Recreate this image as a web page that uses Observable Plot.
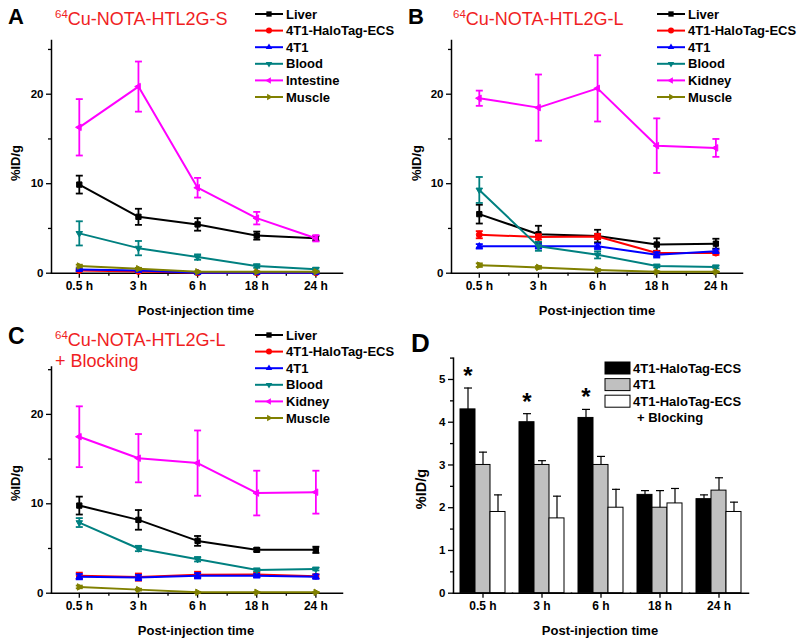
<!DOCTYPE html>
<html><head><meta charset="utf-8">
<script src="https://cdn.jsdelivr.net/npm/d3@7"></script>
<script src="https://cdn.jsdelivr.net/npm/@observablehq/plot@0.6"></script>
<style>
body{margin:0;background:#fff;}
#fig{position:relative;width:800px;height:639px;overflow:hidden;background:#fff;font-family:"Liberation Sans",Arial,sans-serif;}
#fig > svg{position:absolute;}
</style></head><body><div id="fig"></div>
<script>
// ---------- data ----------
const times = ["0.5 h", "3 h", "6 h", "18 h", "24 h"];
const namesA = ["Liver", "4T1-HaloTag-ECS", "4T1", "Blood", "Intestine", "Muscle"];
const namesBC = ["Liver", "4T1-HaloTag-ECS", "4T1", "Blood", "Kidney", "Muscle"];

// Panel A: 64Cu-NOTA-HTL2G-S
const aLiver = [9.9, 6.3, 5.45, 4.2, 3.9];       const aLiverErr = [1.0, 0.9, 0.7, 0.45, 0.25];
const aHalo = [0.3, 0.2, 0.05, 0.05, 0.05];      const aHaloErr = [0.1, 0.1, 0.02, 0.02, 0.02];
const a4T1 = [0.4, 0.3, 0.05, 0.05, 0.05];       const a4T1Err = [0.1, 0.1, 0.02, 0.02, 0.02];
const aBlood = [4.45, 2.8, 1.8, 0.8, 0.45];      const aBloodErr = [1.35, 0.8, 0.3, 0.2, 0.15];
const aIntestine = [16.3, 20.85, 9.55, 6.15, 3.9]; const aIntestineErr = [3.15, 2.8, 1.1, 0.7, 0.35];
const aMuscle = [0.8, 0.5, 0.15, 0.15, 0.15];    const aMuscleErr = [0.15, 0.1, 0.05, 0.05, 0.05];

// Panel B: 64Cu-NOTA-HTL2G-L
const bLiver = [6.6, 4.35, 4.15, 3.2, 3.3];      const bLiverErr = [1.05, 0.95, 0.7, 0.7, 0.55];
const bHalo = [4.3, 4.05, 4.1, 2.25, 2.25];      const bHaloErr = [0.4, 0.3, 0.3, 0.2, 0.2];
const b4T1 = [3.0, 3.0, 3.0, 2.05, 2.45];        const b4T1Err = [0.25, 0.25, 0.3, 0.3, 0.2];
const bBlood = [9.3, 3.0, 2.05, 0.8, 0.7];       const bBloodErr = [1.45, 0.5, 0.4, 0.15, 0.15];
const bKidney = [19.55, 18.5, 20.65, 14.25, 14.0]; const bKidneyErr = [0.85, 3.7, 3.7, 3.05, 1.0];
const bMuscle = [0.9, 0.65, 0.35, 0.15, 0.15];   const bMuscleErr = [0.2, 0.15, 0.1, 0.05, 0.05];

// Panel C: 64Cu-NOTA-HTL2G-L + Blocking
const cLiver = [9.8, 8.2, 5.85, 4.85, 4.85];     const cLiverErr = [1.0, 1.1, 0.55, 0.2, 0.35];
const cHalo = [1.95, 1.8, 2.05, 2.1, 1.9];       const cHaloErr = [0.35, 0.4, 0.35, 0.25, 0.2];
const c4T1 = [1.85, 1.75, 1.95, 1.95, 1.85];     const c4T1Err = [0.3, 0.3, 0.3, 0.2, 0.25];
const cBlood = [7.9, 5.0, 3.8, 2.6, 2.7];        const cBloodErr = [0.5, 0.3, 0.25, 0.15, 0.15];
const cKidney = [17.5, 15.1, 14.55, 11.2, 11.3]; const cKidneyErr = [3.4, 2.7, 3.65, 2.5, 2.4];
const cMuscle = [0.7, 0.4, 0.1, 0.1, 0.1];       const cMuscleErr = [0.15, 0.1, 0.05, 0.05, 0.05];

// Panel D: tumor uptake bars
const namesD = ["4T1-HaloTag-ECS", "4T1", "4T1-HaloTag-ECS + Blocking"];
const dHalo = [4.3, 4.0, 4.1, 2.3, 2.2];         const dHaloErr = [0.5, 0.2, 0.2, 0.1, 0.1];
const d4T1 = [3.0, 3.0, 3.0, 2.0, 2.4];          const d4T1Err = [0.3, 0.1, 0.2, 0.4, 0.3];
const dBlock = [1.9, 1.75, 2.0, 2.1, 1.9];       const dBlockErr = [0.4, 0.52, 0.43, 0.35, 0.23];
const dStars = ["0.5 h", "3 h", "6 h"];

const yTicksLine = [0, 10, 20];
const yMinorLine = [5, 15, 25];
const yTicksBar = [0, 1, 2, 3, 4, 5];
const yMinorBar = [0.5, 1.5, 2.5, 3.5, 4.5, 5.5];

// ---------- styles ----------
const lineColors = ["#000000", "#ff0000", "#0000ff", "#008080", "#ff00ff", "#808000"];
const barColors = ["#000000", "#c0c0c0", "#ffffff"];
const FONT = "'Liberation Sans', Arial, sans-serif";

function tri(angle) {
  return {draw(ctx, size) {
    const r = Math.sqrt(size / Math.PI) * 1.25;
    const p = [0, 1, 2].map(k => { const a = angle + k * 2 * Math.PI / 3; return [r * Math.sin(a), -r * Math.cos(a)]; });
    ctx.moveTo(p[0][0], p[0][1]); ctx.lineTo(p[1][0], p[1][1]); ctx.lineTo(p[2][0], p[2][1]); ctx.closePath();
  }};
}
const capSym = {draw(ctx, size) { const r = Math.sqrt(size / Math.PI); ctx.moveTo(-r, 0); ctx.lineTo(r, 0); }};
const lineSymbols = [d3.symbolSquare, d3.symbolCircle, tri(0), tri(Math.PI), tri(-Math.PI / 2), tri(Math.PI / 2)];

const fig = document.getElementById("fig");

function linePanel(values, errors, opts) {
  const data = values.flatMap((arr, k) => arr.map((v, i) => ({k, i, v, e: errors[k][i]})));
  const marks = [
    Plot.axisY({ticks: yTicksLine, tickSize: 5, tickPadding: 3, label: null, fontSize: 11.5, strokeWidth: 1.3}),
    Plot.axisY({ticks: yMinorLine, tickSize: 3, tickFormat: () => "", label: null, strokeWidth: 1.3}),
    Plot.axisX({ticks: [0, 1, 2, 3, 4], tickFormat: i => times[i], tickSize: 5, tickPadding: 3, label: null, fontSize: 12, strokeWidth: 1.3}),
    Plot.axisX({ticks: [0.5, 1.5, 2.5, 3.5], tickSize: 3, tickFormat: () => "", label: null, strokeWidth: 1.3}),
    Plot.frame({anchor: "left", strokeWidth: 1.5}),
    Plot.frame({anchor: "bottom", strokeWidth: 1.5})
  ];
  values.forEach((arr, k) => {
    const f = d => d.k === k;
    const c = lineColors[k];
    marks.push(
      Plot.lineY(data, {filter: f, x: "i", y: "v", stroke: c, strokeWidth: 2}),
      Plot.ruleX(data, {filter: f, x: "i", y1: d => d.v - d.e, y2: d => d.v + d.e, stroke: c, strokeWidth: 1.8}),
      Plot.dot(data, {filter: f, x: "i", y: d => d.v + d.e, symbol: capSym, r: 3.5, stroke: c, strokeWidth: 1.8, fill: "none"}),
      Plot.dot(data, {filter: f, x: "i", y: d => d.v - d.e, symbol: capSym, r: 3.5, stroke: c, strokeWidth: 1.8, fill: "none"}),
      Plot.dot(data, {filter: f, x: "i", y: "v", symbol: lineSymbols[k], r: 3, fill: c, stroke: c, strokeWidth: 1})
    );
  });
  return Plot.plot({
    width: 400, height: opts.height,
    marginLeft: 51, marginRight: 58, marginTop: opts.marginTop, marginBottom: opts.marginBottom,
    x: {domain: [-0.47, 4.45]},
    y: {domain: [0, opts.ymax]},
    style: {fontFamily: FONT, fontWeight: "bold", fontSize: "12px", color: "black", background: "transparent", overflow: "visible"},
    marks
  });
}

function barPanel() {
  const vals = [dHalo, d4T1, dBlock], errs = [dHaloErr, d4T1Err, dBlockErr];
  const data = vals.flatMap((arr, k) => arr.map((v, i) => ({name: namesD[k], time: times[i], v, e: errs[k][i]})));
  const stars = data.filter(d => d.name === namesD[0] && dStars.includes(d.time));
  return Plot.plot({
    width: 400, height: 319,
    marginLeft: 51, marginRight: 50, marginTop: 37.6, marginBottom: 46.3,
    fx: {domain: times, padding: 0, label: null},
    x: {domain: namesD, paddingInner: 0, paddingOuter: 0.375, axis: null},
    y: {domain: [0, 5.5]},
    color: {domain: namesD, range: barColors},
    style: {fontFamily: FONT, fontWeight: "bold", fontSize: "12px", color: "black", background: "transparent", overflow: "visible"},
    marks: [
      Plot.barY(data, {fx: "time", x: "name", y: "v", fill: "name", stroke: "black", strokeWidth: 1}),
      Plot.ruleX(data, {fx: "time", x: "name", y1: "v", y2: d => d.v + d.e, stroke: "black", strokeWidth: 1.2}),
      Plot.dot(data, {fx: "time", x: "name", y: d => d.v + d.e, symbol: capSym, r: 4, stroke: "black", strokeWidth: 1.2, fill: "none"}),
      Plot.text(stars, {fx: "time", x: "name", y: d => d.v + d.e, text: () => "*", fontSize: 24, fontWeight: "bold", lineAnchor: "top", dy: -21}),
      Plot.axisFx({anchor: "bottom", tickSize: 5, tickPadding: 3, label: null, fontSize: 12, strokeWidth: 1.3}),
      Plot.axisY({ticks: yTicksBar, tickFormat: d => String(d), tickSize: 5, tickPadding: 3, label: null, fontSize: 11.5, strokeWidth: 1.3}),
      Plot.axisY({ticks: yMinorBar, tickSize: 3, tickFormat: () => "", label: null, strokeWidth: 1.3}),
      Plot.frame({anchor: "left", facetAnchor: "left", strokeWidth: 1.5}),
      Plot.frame({anchor: "bottom", strokeWidth: 1.5})
    ]
  });
}

function place(el, left, top) { el.style.left = left + "px"; el.style.top = top + "px"; fig.appendChild(el); }

place(linePanel([aLiver, aHalo, a4T1, aBlood, aIntestine, aMuscle],
  [aLiverErr, aHaloErr, a4T1Err, aBloodErr, aIntestineErr, aMuscleErr],
  {height: 320, marginTop: 40, marginBottom: 47.3, ymax: 26}), 0, 0);
place(linePanel([bLiver, bHalo, b4T1, bBlood, bKidney, bMuscle],
  [bLiverErr, bHaloErr, b4T1Err, bBloodErr, bKidneyErr, bMuscleErr],
  {height: 320, marginTop: 40, marginBottom: 47.3, ymax: 26}), 400, 0);
place(linePanel([cLiver, cHalo, c4T1, cBlood, cKidney, cMuscle],
  [cLiverErr, cHaloErr, c4T1Err, cBloodErr, cKidneyErr, cMuscleErr],
  {height: 319, marginTop: 46.5, marginBottom: 46.3, ymax: 25.3}), 0, 320);
place(barPanel(), 400, 320);

// ---------- overlay: panel letters, titles, legends, axis titles ----------
const ov = d3.select(fig).append("svg").attr("width", 800).attr("height", 639)
  .style("left", "0px").style("top", "0px").style("font-family", FONT);

const letters = [["A", 8, 24, 22], ["B", 408, 24, 22], ["C", 8, 344, 23], ["D", 411, 352, 26]];
letters.forEach(([t, x, y, s]) => ov.append("text").attr("x", x).attr("y", y).attr("font-size", s).attr("font-weight", "bold").text(t));

function title(x, y, rest) {
  const t = ov.append("text").attr("x", x).attr("y", y).attr("fill", "#f01e23").attr("font-size", 18);
  t.append("tspan").attr("font-size", 11.5).attr("dy", -7).text("64");
  t.append("tspan").attr("dy", 7).text(rest);
}
title(55, 25, "Cu-NOTA-HTL2G-S");
title(453, 25, "Cu-NOTA-HTL2G-L");
title(55, 346, "Cu-NOTA-HTL2G-L");
ov.append("text").attr("x", 55).attr("y", 367).attr("fill", "#f01e23").attr("font-size", 18).text("+ Blocking");

function lineLegend(x0, y0, names) {
  names.forEach((n, k) => {
    const y = y0 + k * 16.6;
    ov.append("line").attr("x1", x0).attr("x2", x0 + 28).attr("y1", y).attr("y2", y).attr("stroke", lineColors[k]).attr("stroke-width", 2);
    ov.append("path").attr("transform", `translate(${x0 + 14},${y})`)
      .attr("d", d3.symbol().type(lineSymbols[k]).size(Math.PI * 9)()).attr("fill", lineColors[k]);
    ov.append("text").attr("x", x0 + 31).attr("y", y).attr("dy", "0.35em").attr("font-size", 13).attr("font-weight", "bold").text(n);
  });
}
lineLegend(255, 14, namesA);
lineLegend(657, 14, namesBC);
lineLegend(255, 335, namesBC);

const dLegendLabels = ["4T1-HaloTag-ECS", "4T1", "4T1-HaloTag-ECS"];
dLegendLabels.forEach((n, k) => {
  const y = 368 + k * 16.6;
  ov.append("rect").attr("x", 605).attr("y", y - 6).attr("width", 25).attr("height", 12).attr("fill", barColors[k]).attr("stroke", "black").attr("stroke-width", 1);
  ov.append("text").attr("x", 633).attr("y", y).attr("dy", "0.35em").attr("font-size", 13).attr("font-weight", "bold").text(n);
});
ov.append("text").attr("x", 637).attr("y", 368 + 3 * 16.6).attr("dy", "0.35em").attr("font-size", 13).attr("font-weight", "bold").text("+ Blocking");

const xTitles = [[196, 310], [597, 310], [196, 630], [600, 630]];
xTitles.forEach(([x, y]) => ov.append("text").attr("x", x).attr("y", y).attr("dy", "0.35em").attr("text-anchor", "middle")
  .attr("font-size", 13).attr("font-weight", "bold").text("Post-injection time"));
const yTitles = [[15, 163, 13], [416, 163, 13], [15, 483, 13], [421, 489, 14.5]];
yTitles.forEach(([x, y, s]) => ov.append("text").attr("transform", `translate(${x},${y}) rotate(-90)`).attr("dy", "0.35em")
  .attr("text-anchor", "middle").attr("font-size", s).attr("font-weight", "bold").text("%ID/g"));
</script></body></html>
